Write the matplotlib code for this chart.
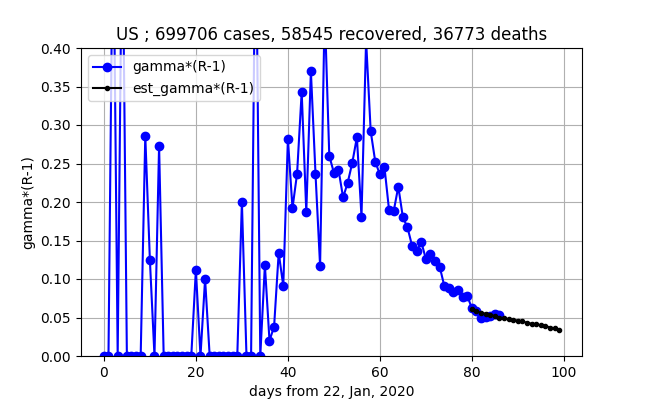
import numpy as np
import matplotlib
matplotlib.use('Agg')
import matplotlib.pyplot as plt

# gamma*(R-1) per day, days 0..86 (values above 0.4 are clipped by the axes)
gamma_r = [0, 0, 0.6, 0, 0.6, 0, 0, 0, 0, 0.286,
           0.125, 0, 0.273, 0, 0, 0, 0, 0, 0, 0,
           0.112, 0, 0.1, 0, 0, 0, 0, 0, 0, 0,
           0.2, 0, 0, 0.6, 0, 0.118, 0.02, 0.038, 0.134, 0.091,
           0.282, 0.192, 0.237, 0.343, 0.187, 0.37, 0.237, 0.117, 0.45, 0.26,
           0.238, 0.242, 0.206, 0.225, 0.251, 0.284, 0.181, 0.41, 0.292, 0.252,
           0.236, 0.245, 0.189, 0.188, 0.22, 0.18, 0.167, 0.143, 0.137, 0.148,
           0.126, 0.132, 0.124, 0.116, 0.091, 0.088, 0.083, 0.086, 0.077, 0.078,
           0.062, 0.058, 0.05, 0.051, 0.052, 0.055, 0.053]
days = np.arange(len(gamma_r))

# estimated curve, days 80..99
est_days = np.arange(80, 100)
est_gamma_r = [0.061, 0.058, 0.056, 0.055, 0.053, 0.052, 0.050, 0.049, 0.048, 0.047,
               0.046, 0.045, 0.043, 0.042, 0.041, 0.040, 0.039, 0.037, 0.036, 0.034]

fig, ax = plt.subplots(figsize=(6.47, 4.0), dpi=100)
ax.plot(days, gamma_r, 'o-', color='blue', label='gamma*(R-1)')
ax.plot(est_days, est_gamma_r, '.-', color='black', label='est_gamma*(R-1)')
ax.set_ylim(0, 0.4)
ax.set_xlim(-5, 104)
ax.set_xlabel('days from 22, Jan, 2020')
ax.set_ylabel('gamma*(R-1)')
ax.set_title('US ; 699706 cases, 58545 recovered, 36773 deaths')
ax.grid(True)
ax.legend(loc='upper left')
fig.savefig('out.png')
